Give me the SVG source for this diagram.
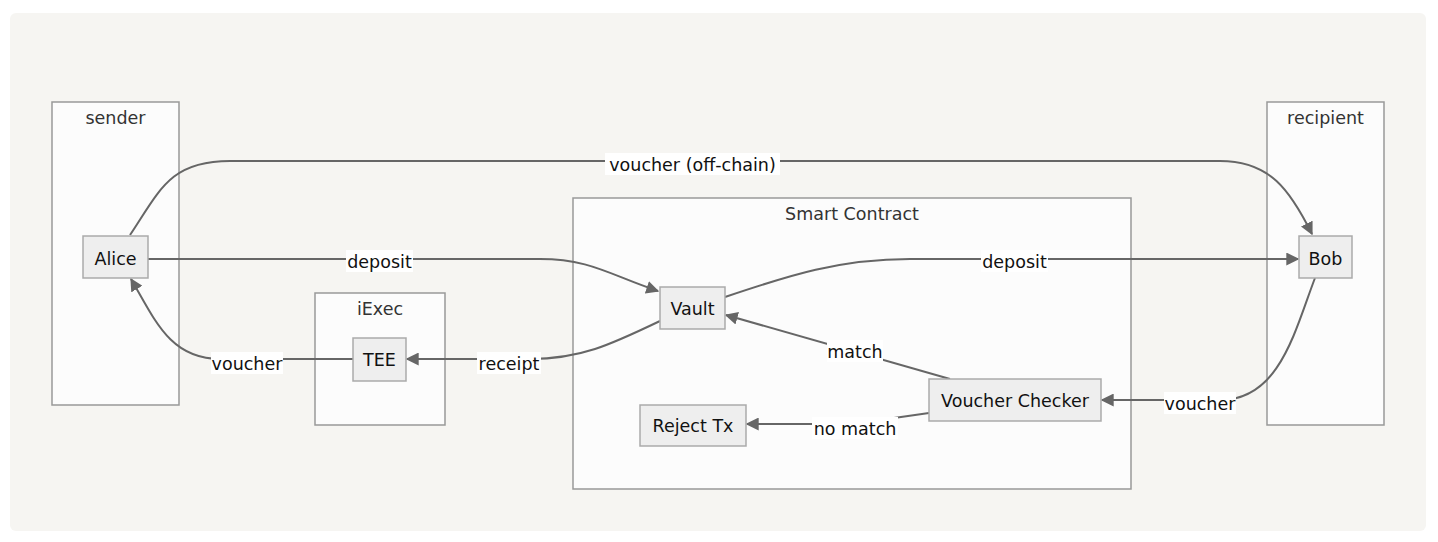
<svg xmlns="http://www.w3.org/2000/svg" width="1438" height="542" viewBox="0 0 1438 542">
<defs>
<marker id="arr" viewBox="0 0 10 10" refX="9" refY="5" markerWidth="13" markerHeight="13" markerUnits="userSpaceOnUse" orient="auto">
<path d="M0,0 L10,5 L0,10 z" fill="#666"/>
</marker>
<style>
.bg{fill:#f6f5f2}
.cl rect{fill:#fcfcfc;stroke:#999;stroke-width:1.5}
.cl text{font-family:"DejaVu Sans",sans-serif;font-size:17.5px;fill:#333;text-anchor:middle}
.nd rect{fill:#eeeeee;stroke:#aaa;stroke-width:1.5}
.nd text{font-family:"DejaVu Sans",sans-serif;font-size:17.5px;fill:#111;text-anchor:middle}
.ed path{fill:none;stroke:#666;stroke-width:2}
.lb rect{fill:#fff}
.lb text{font-family:"DejaVu Sans",sans-serif;font-size:17.5px;fill:#111;text-anchor:middle}
</style>
</defs>
<rect x="0" y="0" width="1438" height="542" fill="#fff"/>
<rect class="bg" x="10" y="13" width="1416" height="518" rx="6"/>
<g id="sender" class="cl"><rect x="52" y="102" width="127" height="303"/><text x="115.5" y="124">sender</text></g>
<g id="iExec" class="cl"><rect x="315" y="293" width="130" height="132"/><text x="380" y="315">iExec</text></g>
<g id="smartContract" class="cl"><rect x="573" y="198" width="558" height="291"/><text x="852" y="220">Smart Contract</text></g>
<g id="recipient" class="cl"><rect x="1267" y="102" width="117" height="323"/><text x="1325.5" y="124">recipient</text></g>
<g id="edges" class="ed">
<path d="M130,235 C160,190 170,161 230,161 L1220,161 C1270,161 1290,190 1312,234" marker-end="url(#arr)"/>
<path d="M148,259 L540,259 C590,259 610,275 658,291" marker-end="url(#arr)"/>
<path d="M725,297 C790,275 840,259 910,259 L1298,259" marker-end="url(#arr)"/>
<path d="M660,321 C610,345 580,359 530,359 L407,359" marker-end="url(#arr)"/>
<path d="M353,359 L220,359 C170,359 155,320 131,279" marker-end="url(#arr)"/>
<path d="M1315,278 C1295,330 1280,400 1220,400 L1102,400" marker-end="url(#arr)"/>
<path d="M950,379 L726,315" marker-end="url(#arr)"/>
<path d="M929,413 L880,420 C860,424 850,424 830,424 L747,424" marker-end="url(#arr)"/>
</g>
<g id="labels" class="lb">
<rect x="605" y="153" width="175" height="22"/><text x="692.5" y="171">voucher (off-chain)</text>
<rect x="346" y="250" width="67" height="22"/><text x="379.5" y="268">deposit</text>
<rect x="981" y="250" width="67" height="22"/><text x="1014.5" y="268">deposit</text>
<rect x="477" y="352" width="64" height="22"/><text x="509" y="370">receipt</text>
<rect x="211" y="352" width="72" height="22"/><text x="247" y="370">voucher</text>
<rect x="1164" y="392" width="72" height="22"/><text x="1200" y="410">voucher</text>
<rect x="827" y="340" width="56" height="22"/><text x="855" y="358">match</text>
<rect x="812" y="417" width="86" height="22"/><text x="855" y="435">no match</text>
</g>
<g id="Alice" class="nd"><rect x="83" y="236" width="65" height="42"/><text x="115.5" y="265">Alice</text></g>
<g id="Bob" class="nd"><rect x="1299" y="236" width="53" height="42"/><text x="1325.5" y="265">Bob</text></g>
<g id="TEE" class="nd"><rect x="353" y="338" width="53" height="43"/><text x="379.5" y="366">TEE</text></g>
<g id="Vault" class="nd"><rect x="660" y="287" width="65" height="42"/><text x="692.5" y="315">Vault</text></g>
<g id="VoucherChecker" class="nd"><rect x="929" y="379" width="172" height="42"/><text x="1015" y="407">Voucher Checker</text></g>
<g id="RejectTx" class="nd"><rect x="640" y="405" width="106" height="41"/><text x="693" y="432">Reject Tx</text></g>
</svg>
